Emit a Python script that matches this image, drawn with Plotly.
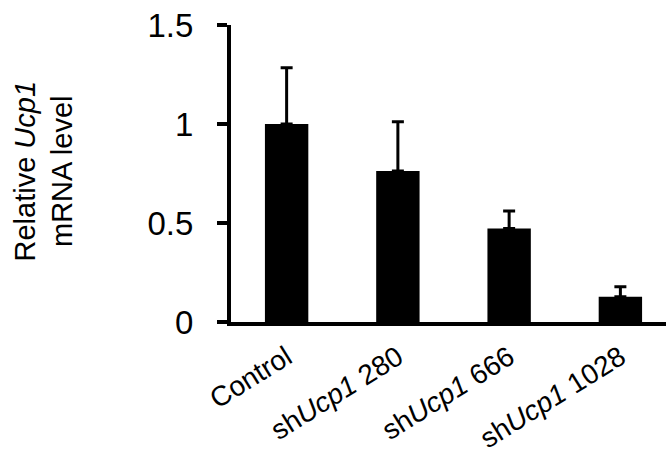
import plotly.graph_objects as go

categories = ["Control", "sh<i>Ucp1</i> 280", "sh<i>Ucp1</i> 666", "sh<i>Ucp1</i> 1028"]
values = [1.0, 0.762, 0.472, 0.127]
errors = [0.284, 0.249, 0.088, 0.051]
ytick_vals = [0, 0.5, 1, 1.5]
ytick_text = ["0", "0.5", "1", "1.5"]

FONT = "Arial, Liberation Sans, sans-serif"

fig = go.Figure()
fig.add_trace(go.Bar(
    x=list(range(len(categories))),
    y=values,
    width=0.39,
    marker=dict(color="black", line=dict(width=0)),
    error_y=dict(type="data", array=errors, symmetric=False,
                 color="black", thickness=3, width=6),
))

fig.update_layout(
    width=666, height=468,
    margin=dict(l=231, r=0, t=25, b=146),
    plot_bgcolor="white", paper_bgcolor="white",
    showlegend=False,
    font=dict(family=FONT, color="black"),
    xaxis=dict(
        range=[-0.5, 3.41],
        tickmode="array",
        tickvals=list(range(len(categories))),
        ticktext=categories,
        tickangle=-32,
        tickfont=dict(size=28, family=FONT),
        showline=True, linecolor="black", linewidth=4,
        ticks="", showgrid=False, zeroline=False,
        ticklabelstandoff=4,
        automargin=False,
    ),
    yaxis=dict(
        range=[0, 1.5],
        tickmode="array",
        tickvals=ytick_vals,
        ticktext=ytick_text,
        tickfont=dict(size=33, family=FONT),
        showline=True, linecolor="black", linewidth=4,
        ticks="outside", ticklen=10, tickwidth=4, tickcolor="black",
        showgrid=False, zeroline=False,
        ticklabelstandoff=17,
        automargin=False,
    ),
    annotations=[dict(
        text="Relative <i>Ucp1</i><br>mRNA level",
        xref="paper", yref="paper", x=0, y=0.5,
        xanchor="center", yanchor="middle",
        xshift=-188, yshift=2, textangle=-90, showarrow=False,
        font=dict(size=29, family=FONT, color="black"),
    )],
)

fig.write_html("out.html", config={"displayModeBar": False},
               post_script="document.body.style.margin='0';")
